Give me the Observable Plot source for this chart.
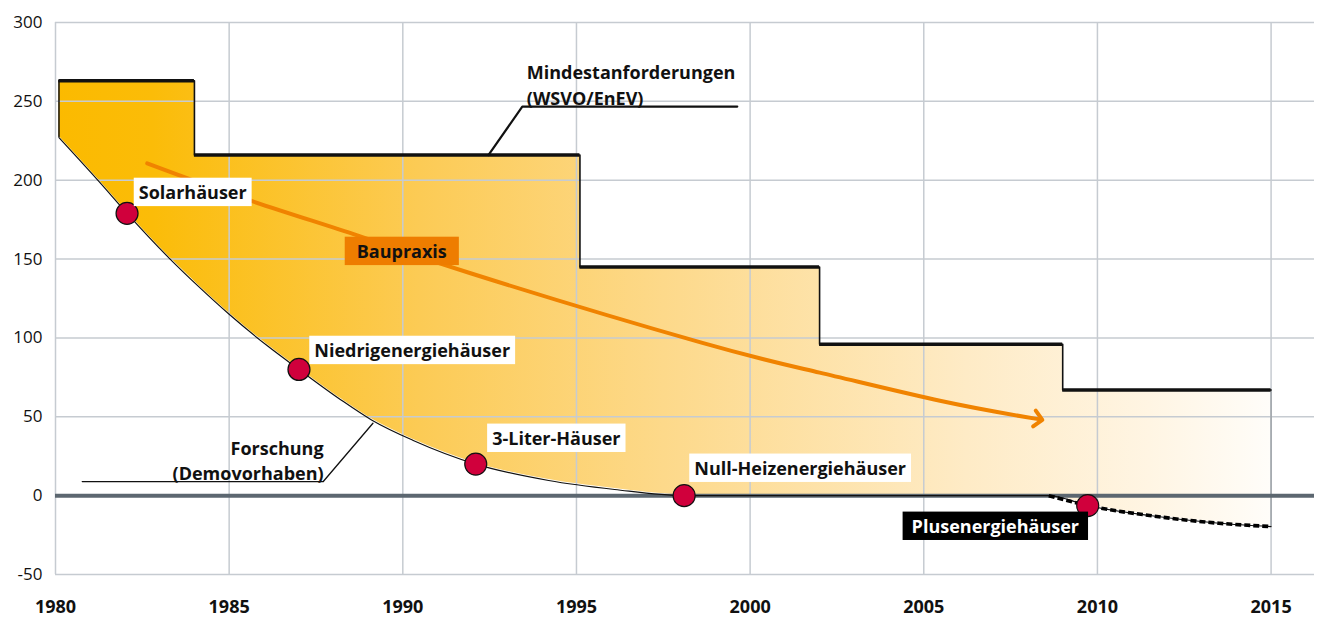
<!DOCTYPE html>
<html><head><meta charset="utf-8">
<script src="https://cdn.jsdelivr.net/npm/d3@7"></script>
<script src="https://cdn.jsdelivr.net/npm/@observablehq/plot@0.6"></script>
<style>
html,body{margin:0;padding:0;background:#fff;}
#chart svg{display:block;font-family:"Open Sans",sans-serif;}
</style></head><body><div id="chart"></div>
<script>
// ---- data ----
const xTicks = [1980, 1985, 1990, 1995, 2000, 2005, 2010, 2015];
const yTicks = [-50, 0, 50, 100, 150, 200, 250, 300];

// Mindestanforderungen (WSVO/EnEV) – step line
const stepYears  = [1980.1, 1984, 1995.1, 2002, 2009, 2015];
const stepValues = [263, 216, 145, 96, 67, 67];

// Forschung (Demovorhaben) – lower curve
const researchYears  = [1980.1, 1981.3, 1982.06, 1983.3, 1984.1, 1985, 1986.1, 1987.01, 1988.2, 1989.1, 1990.3, 1992.1, 1994.2, 1996.1, 1998.1, 2003, 2008.6, 2009.72, 2011.5, 2013.5, 2015];
const researchValues = [227, 198, 179, 150, 133, 115, 95, 80, 61, 48, 35, 20, 9.6, 3.9, 0, 0, 0, -6.3, -12.6, -17.5, -19.6];
const dashedFrom = 2008.6;

// Baupraxis arrow
const praxisYears  = [1982.64, 1985.62, 1988.69, 1991.95, 1998.6, 2002, 2005.5, 2008.3];
const praxisValues = [210.7, 187, 165, 141, 97, 78, 60, 48.5];

// milestones
const milestoneNames  = ["Solarhäuser", "Niedrigenergiehäuser", "3-Liter-Häuser", "Null-Heizenergiehäuser", "Plusenergiehäuser"];
const milestoneYears  = [1982.06, 1987.01, 1992.1, 1998.1, 2009.72];
const milestoneValues = [179, 80, 20, 0, -6.3];
const labelYears  = [1983.95, 1990.27, 1994.42, 2001.44, 2007.06];
const labelValues = [191.8, 91.6, 35.9, 16.9, -19.9];

const praxisLabel = "Baupraxis";
const praxisLabelYear = 1989.97, praxisLabelValue = 154.4;

const minLabel = "Mindestanforderungen\n(WSVO/EnEV)";
const minLabelYear = 1993.57, minLabelValue = 275.8;
const minLeaderYears  = [1999.63, 1993.44, 1992.47];
const minLeaderValues = [246.7, 246.7, 216];

const resLabel = "Forschung\n(Demovorhaben)";
const resLabelYear = 1987.72, resLabelValue = 36.9;
const resLeaderYears  = [1980.77, 1987.71, 1989.14];
const resLeaderValues = [8.94, 8.94, 45.9];

// ---- tables ----
const step = stepYears.map((x, i) => ({x, y: stepValues[i]}));
const stepSegs = stepYears.slice(0, -1).map((x, i) => ({x1: x, x2: stepYears[i + 1], y: stepValues[i]}));
const research = researchYears.map((x, i) => ({x, y: researchValues[i]}));
const researchDashed = research.filter(d => d.x >= dashedFrom);
const praxis = praxisYears.map((x, i) => ({x, y: praxisValues[i]}));
const milestones = milestoneNames.map((name, i) => ({name, x: milestoneYears[i], y: milestoneValues[i], lx: labelYears[i], ly: labelValues[i]}));
const whiteLabels = milestones.slice(0, 4);
const blackLabels = milestones.slice(4);
const minLeader = minLeaderYears.map((x, i) => ({x, y: minLeaderValues[i]}));
const resLeader = resLeaderYears.map((x, i) => ({x, y: resLeaderValues[i]}));
const first = {x: stepYears[0], y1: researchValues[0], y2: stepValues[0]};
const last = {x: stepYears[stepYears.length - 1], y1: researchValues[researchValues.length - 1], y2: stepValues[stepValues.length - 1]};
const yMin = yTicks[0];

const gradientDefs = (index, scales) => {
  const defs = d3.create("svg:defs");
  const g = defs.append("linearGradient").attr("id", "fillGrad")
    .attr("gradientUnits", "userSpaceOnUse")
    .attr("x1", scales.x(xTicks[0])).attr("x2", scales.x(xTicks[xTicks.length - 1]))
    .attr("y1", 0).attr("y2", 0);
  [[0, "#FBBA00"], [0.08, "#FBBC08"], [0.3, "#FCCB55"], [0.5, "#FDD98A"], [0.75, "#FEEBC6"], [0.9, "#FFF5E3"], [1, "#FFFDF9"]]
    .forEach(([o, c]) => g.append("stop").attr("offset", o).attr("stop-color", c));
  return defs.node();
};

const chart = Plot.plot({
  width: 1319,
  height: 617,
  marginLeft: 55,
  marginRight: 5,
  marginTop: 22,
  marginBottom: 43,
  style: {fontFamily: "Open Sans, sans-serif", color: "#111", background: "#fff"},
  x: {domain: [1980, 2016.25], label: null},
  y: {domain: [yMin, 300], label: null},
  marks: [
    gradientDefs,
    Plot.areaY(step, {x: "x", y1: yMin, y2: "y", curve: "step-after", fill: "url(#fillGrad)"}),
    Plot.areaY(research, {x: "x", y1: yMin, y2: "y", curve: "monotone-x", fill: "white", stroke: "white", strokeWidth: 2}),
    Plot.gridX({ticks: xTicks, stroke: "#C6CBD1", strokeOpacity: 1, strokeWidth: 1.5}),
    Plot.gridY({ticks: yTicks, stroke: "#C6CBD1", strokeOpacity: 1, strokeWidth: 1.5}),
    Plot.axisY({ticks: yTicks, tickSize: 0, tickPadding: 13, fontSize: 17, tickFormat: d => String(d), label: null}),
    Plot.axisX({ticks: xTicks, tickSize: 0, tickPadding: 26, fontSize: 18, fontWeight: "bold", tickFormat: d => String(d), label: null}),
    Plot.ruleX([last], {x: "x", y1: "y1", y2: "y2", stroke: "#9EA3A8", strokeWidth: 1.5}),
    Plot.ruleY([0], {stroke: "#5C6770", strokeWidth: 4}),
    Plot.ruleX([first], {x: "x", y1: "y1", y2: "y2", stroke: "#111", strokeWidth: 1.5}),
    Plot.line(research, {x: "x", y: "y", curve: "monotone-x", stroke: "#111", strokeWidth: 1.2}),
    Plot.line(researchDashed, {x: "x", y: "y", curve: "monotone-x", stroke: "#000", strokeWidth: 3.6, strokeDasharray: "6,3", strokeLinecap: "butt"}),
    Plot.line(step, {x: "x", y: "y", curve: "step-after", stroke: "#111", strokeWidth: 1.6}),
    Plot.ruleY(stepSegs, {x1: "x1", x2: "x2", y: "y", stroke: "#111", strokeWidth: 3.5}),
    Plot.line(minLeader, {x: "x", y: "y", stroke: "#111", strokeWidth: 2.2}),
    Plot.line(resLeader, {x: "x", y: "y", stroke: "#111", strokeWidth: 1.3}),
    Plot.line(praxis, {x: "x", y: "y", curve: "natural", stroke: "#F08300", strokeWidth: 4, markerEnd: "arrow"}),
    Plot.dot(milestones, {x: "x", y: "y", r: 11, fill: "#D0003C", stroke: "#111", strokeWidth: 1.2}),
    Plot.text(whiteLabels, {x: "lx", y: "ly", text: "name", fontSize: 18, fontWeight: "bold", fill: "#111"}),
    Plot.text(blackLabels, {x: "lx", y: "ly", text: "name", fontSize: 18, fontWeight: "bold", fill: "#fff"}),
    Plot.text([praxisLabel], {x: praxisLabelYear, y: praxisLabelValue, text: d => d, fontSize: 18, fontWeight: "bold", fill: "#111"}),
    Plot.text([minLabel], {x: minLabelYear, y: minLabelValue, text: d => d, fontSize: 18, fontWeight: "bold", fill: "#111", textAnchor: "start", lineAnchor: "top", lineHeight: 1.44}),
    Plot.text([resLabel], {x: resLabelYear, y: resLabelValue, text: d => d, fontSize: 18, fontWeight: "bold", fill: "#111", textAnchor: "end", lineAnchor: "top", lineHeight: 1.39})
  ]
});

document.getElementById("chart").append(chart);

// label boxes
const boxStyle = new Map();
whiteLabels.forEach(d => boxStyle.set(d.name, {fill: "#FFFFFF", px: 5, py: 2.2}));
blackLabels.forEach(d => boxStyle.set(d.name, {fill: "#000000", px: 9, py: 2.2}));
boxStyle.set(praxisLabel, {fill: "#EE7D00", px: 12, py: 2.2});
const svgRoot = chart.tagName.toLowerCase() === "svg" ? chart : chart.querySelector("svg");
svgRoot.querySelectorAll("text").forEach(t => {
  const s = boxStyle.get(t.textContent);
  if (!s) return;
  const b = t.getBBox();
  const r = document.createElementNS("http://www.w3.org/2000/svg", "rect");
  r.setAttribute("x", b.x - s.px);
  r.setAttribute("y", b.y - s.py);
  r.setAttribute("width", b.width + 2 * s.px);
  r.setAttribute("height", b.height + 2 * s.py);
  r.setAttribute("fill", s.fill);
  r.setAttribute("stroke", "none");
  const tr = t.getAttribute("transform");
  if (tr) r.setAttribute("transform", tr);
  t.parentNode.insertBefore(r, t);
});
</script></body></html>
